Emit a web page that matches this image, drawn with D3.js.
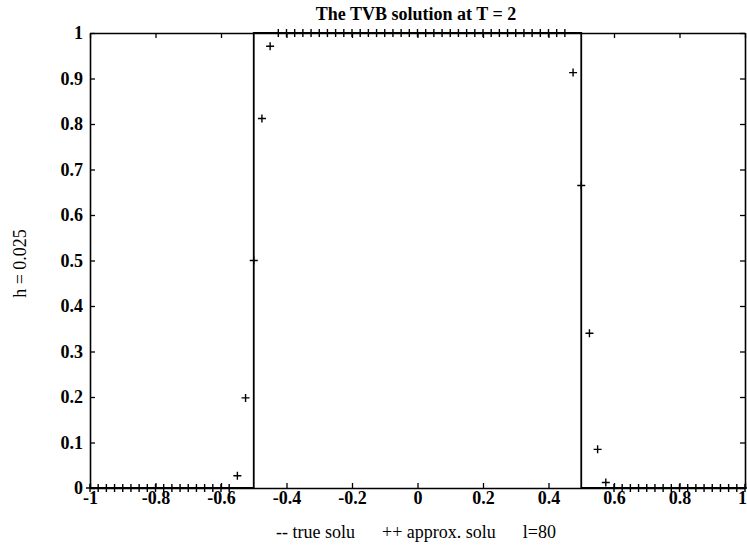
<!DOCTYPE html>
<html>
<head>
<meta charset="utf-8">
<script src="https://cdn.jsdelivr.net/npm/d3@7"></script>
<style>
  html, body { margin: 0; padding: 0; background: #fff; }
  svg { display: block; }
  text { font-family: "Liberation Serif", "DejaVu Serif", serif; fill: #000; }
</style>
</head>
<body>
<svg id="chart" width="747" height="558"></svg>
<script>
// ---- data ----
const titleText = "The TVB solution at T = 2";
const yLabelText = "h = 0.025";
const legendText = "-- true solu      ++ approx. solu      l=80";

const xTicks = [-1, -0.8, -0.6, -0.4, -0.2, 0, 0.2, 0.4, 0.6, 0.8, 1];
const xTickLabels = ["-1", "-0.8", "-0.6", "-0.4", "-0.2", "0", "0.2", "0.4", "0.6", "0.8", "1"];
const yTicks = [0, 0.1, 0.2, 0.3, 0.4, 0.5, 0.6, 0.7, 0.8, 0.9, 1];
const yTickLabels = ["0", "0.1", "0.2", "0.3", "0.4", "0.5", "0.6", "0.7", "0.8", "0.9", "1"];

// true solution (box function)
const trueX = [-1, -0.5, -0.5, 0.5, 0.5, 1];
const trueY = [0, 0, 1, 1, 0, 0];

// approximate solution at grid nodes
const approxX = [
  -1, -0.975, -0.95, -0.925, -0.9, -0.875, -0.85, -0.825, -0.8, -0.775,
  -0.75, -0.725, -0.7, -0.675, -0.65, -0.625, -0.6, -0.575, -0.55, -0.525,
  -0.5, -0.475, -0.45, -0.425, -0.4, -0.375, -0.35, -0.325, -0.3, -0.275,
  -0.25, -0.225, -0.2, -0.175, -0.15, -0.125, -0.1, -0.075, -0.05, -0.025,
  0, 0.025, 0.05, 0.075, 0.1, 0.125, 0.15, 0.175, 0.2, 0.225,
  0.25, 0.275, 0.3, 0.325, 0.35, 0.375, 0.4, 0.425, 0.45, 0.475,
  0.5, 0.525, 0.55, 0.575, 0.6, 0.625, 0.65, 0.675, 0.7, 0.725,
  0.75, 0.775, 0.8, 0.825, 0.85, 0.875, 0.9, 0.925, 0.95, 0.975, 1
];
const approxY = [
  0, 0, 0, 0, 0, 0, 0, 0, 0, 0,
  0, 0, 0, 0, 0, 0, 0, 0, 0.027, 0.198,
  0.5, 0.812, 0.971, 1, 1, 1, 1, 1, 1, 1,
  1, 1, 1, 1, 1, 1, 1, 1, 1, 1,
  1, 1, 1, 1, 1, 1, 1, 1, 1, 1,
  1, 1, 1, 1, 1, 1, 1, 1, 1, 0.913,
  0.665, 0.34, 0.085, 0.012, 0, 0, 0, 0, 0, 0,
  0, 0, 0, 0, 0, 0, 0, 0, 0, 0, 0
];

// ---- layout ----
const L = 90, R = 745, T = 33, B = 488;
const svg = d3.select("#chart");
const x = d3.scaleLinear().domain([-1, 1]).range([L, R]);
const y = d3.scaleLinear().domain([0, 1]).range([B, T]);
const tickLen = 5;

// axes
const xAxisB = d3.axisBottom(x).tickValues(xTicks).tickSizeInner(-tickLen).tickSizeOuter(0)
  .tickPadding(3).tickFormat((d, i) => xTickLabels[i]);
const xAxisT = d3.axisTop(x).tickValues(xTicks).tickSizeInner(-tickLen).tickSizeOuter(0).tickFormat("");
const yAxisL = d3.axisLeft(y).tickValues(yTicks).tickSizeInner(-tickLen).tickSizeOuter(0)
  .tickPadding(7).tickFormat((d, i) => yTickLabels[i]);
const yAxisR = d3.axisRight(y).tickValues(yTicks).tickSizeInner(-tickLen).tickSizeOuter(0).tickFormat("");

function style(g) {
  g.select(".domain").attr("stroke", "#000").attr("stroke-width", 1.6);
  g.selectAll(".tick line").attr("stroke", "#000").attr("stroke-width", 1.3);
  g.selectAll(".tick text").attr("fill", "#000")
    .style("font-family", '"Liberation Serif", serif')
    .style("font-size", "18px").style("font-weight", "bold");
}
const gB = svg.append("g").attr("transform", `translate(0,${B})`).call(xAxisB).call(style);
// last label sits at the right edge; nudge it inward so it stays visible
gB.selectAll(".tick text").filter((d, i) => i === xTicks.length - 1).attr("dx", -3);
svg.append("g").attr("transform", `translate(0,${T})`).call(xAxisT).call(style);
svg.append("g").attr("transform", `translate(${L},0)`).call(yAxisL).call(style);
svg.append("g").attr("transform", `translate(${R},0)`).call(yAxisR).call(style);

// true solution
const line = d3.line().x(d => x(d[0])).y(d => y(d[1]));
svg.append("path")
  .datum(trueX.map((v, i) => [v, trueY[i]]))
  .attr("d", line)
  .attr("fill", "none").attr("stroke", "#000").attr("stroke-width", 1.8);

// approx solution markers
svg.append("g").selectAll("path.pt")
  .data(approxX.map((v, i) => [v, approxY[i]]))
  .join("path")
  .attr("class", "pt")
  .attr("transform", d => `translate(${x(d[0])},${y(d[1])})`)
  .attr("d", "M-4,0H4M0,-4V4")
  .attr("stroke", "#000").attr("stroke-width", 1.4).attr("fill", "none");

// title
svg.append("text").attr("x", 416).attr("y", 20)
  .attr("text-anchor", "middle")
  .style("font-size", "18px").style("font-weight", "bold")
  .text(titleText);

// y label
svg.append("text")
  .attr("transform", `translate(26,${(T + B) / 2 + 3}) rotate(-90)`)
  .attr("text-anchor", "middle")
  .style("font-size", "18px")
  .text(yLabelText);

// legend / x label
svg.append("text").attr("x", 416).attr("y", 538)
  .attr("text-anchor", "middle")
  .style("font-size", "18px")
  .style("white-space", "pre")
  .attr("xml:space", "preserve")
  .text(legendText);
</script>
</body>
</html>
